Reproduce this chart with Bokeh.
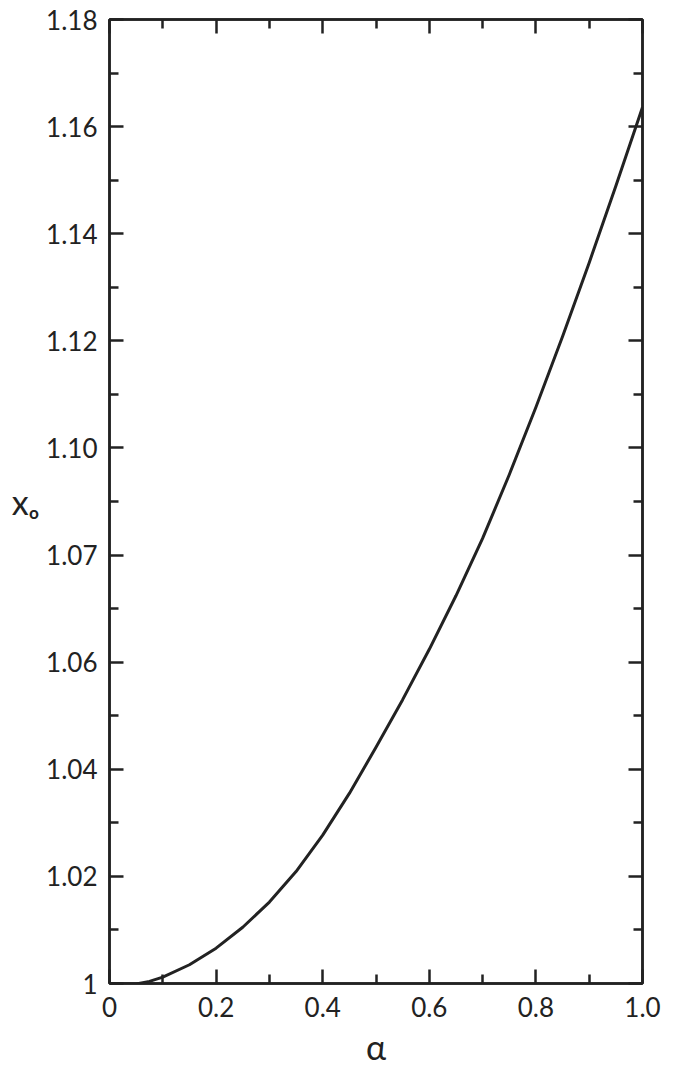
from bokeh.plotting import figure
from bokeh.models import Range1d, FixedTicker, LinearAxis
from bokeh.embed import file_html
from bokeh.resources import INLINE

# data
alpha = [0.0, 0.025, 0.05, 0.075, 0.1, 0.15, 0.2, 0.25, 0.3, 0.35, 0.4, 0.45,
         0.5, 0.55, 0.6, 0.65, 0.7, 0.75, 0.8, 0.85, 0.9, 0.95, 1.0]
x0 = [1.0, 0.9999, 0.9999, 1.0004, 1.0012, 1.0035, 1.0066, 1.0105, 1.0152, 1.0209,
      1.0277, 1.0355, 1.0441, 1.0530, 1.0624, 1.0724, 1.0831, 1.0950, 1.1076,
      1.1208, 1.1346, 1.1489, 1.1636]

x_ticks = [0.0, 0.2, 0.4, 0.6, 0.8, 1.0]
x_tick_labels = ["0", "0.2", "0.4", "0.6", "0.8", "1.0"]
x_minor = [0.1, 0.3, 0.5, 0.7, 0.9]
y_ticks = [1.0, 1.02, 1.04, 1.06, 1.08, 1.10, 1.12, 1.14, 1.16, 1.18]
y_tick_labels = ["1", "1.02", "1.04", "1.06", "1.07", "1.10", "1.12", "1.14", "1.16", "1.18"]
y_minor = [1.01, 1.03, 1.05, 1.07, 1.09, 1.11, 1.13, 1.15, 1.17]

INK = "#222222"
FONT = "Lato"

p = figure(frame_width=533, frame_height=964, output_backend="svg",
           toolbar_location=None, x_axis_location=None, y_axis_location=None,
           x_range=Range1d(0, 1.0), y_range=Range1d(1.0, 1.18),
           min_border_left=109, min_border_top=19, min_border_right=20,
           min_border_bottom=75)
p.background_fill_color = "white"
p.border_fill_color = "white"
p.grid.visible = False
p.outline_line_color = INK
p.outline_line_width = 2.5


def style(ax, labels, show_labels=True):
    ax.axis_line_color = INK
    ax.axis_line_width = 2.5
    ax.major_tick_line_color = INK
    ax.major_tick_line_width = 2.5
    ax.minor_tick_line_color = INK
    ax.minor_tick_line_width = 2.5
    ax.major_tick_out = 0
    ax.major_tick_in = 14
    ax.minor_tick_out = 0
    ax.minor_tick_in = 9
    ax.major_label_text_font = FONT
    ax.major_label_text_color = INK
    ax.major_label_text_font_size = "26px" if show_labels else "0px"
    ax.major_label_overrides = labels


xt = FixedTicker(ticks=x_ticks, minor_ticks=x_minor)
yt = FixedTicker(ticks=y_ticks, minor_ticks=y_minor)

bottom = LinearAxis(ticker=xt)
style(bottom, {t: s for t, s in zip(x_ticks, x_tick_labels)})
bottom.major_label_standoff = 13
bottom.axis_label = "α"
bottom.axis_label_text_font = FONT
bottom.axis_label_text_font_style = "normal"
bottom.axis_label_text_font_size = "34px"
bottom.axis_label_text_color = INK
bottom.axis_label_standoff = 6
p.add_layout(bottom, "below")

left = LinearAxis(ticker=yt)
style(left, {t: s for t, s in zip(y_ticks, y_tick_labels)})
left.major_label_standoff = 12
left.major_label_orientation = "horizontal"
left.axis_label = "xₒ"
left.axis_label_orientation = "horizontal"
left.axis_label_text_font = FONT
left.axis_label_text_font_style = "normal"
left.axis_label_text_font_size = "34px"
left.axis_label_text_color = INK
left.axis_label_standoff = 4
p.add_layout(left, "left")

top = LinearAxis(ticker=xt)
style(top, {t: "" for t in x_ticks}, show_labels=False)
top.major_label_standoff = 0
p.add_layout(top, "above")

right = LinearAxis(ticker=yt)
style(right, {t: "" for t in y_ticks}, show_labels=False)
right.major_label_standoff = 0
p.add_layout(right, "right")

p.line(alpha, x0, line_color=INK, line_width=3, line_join="round")

open("out.html", "w").write(file_html(p, INLINE))
